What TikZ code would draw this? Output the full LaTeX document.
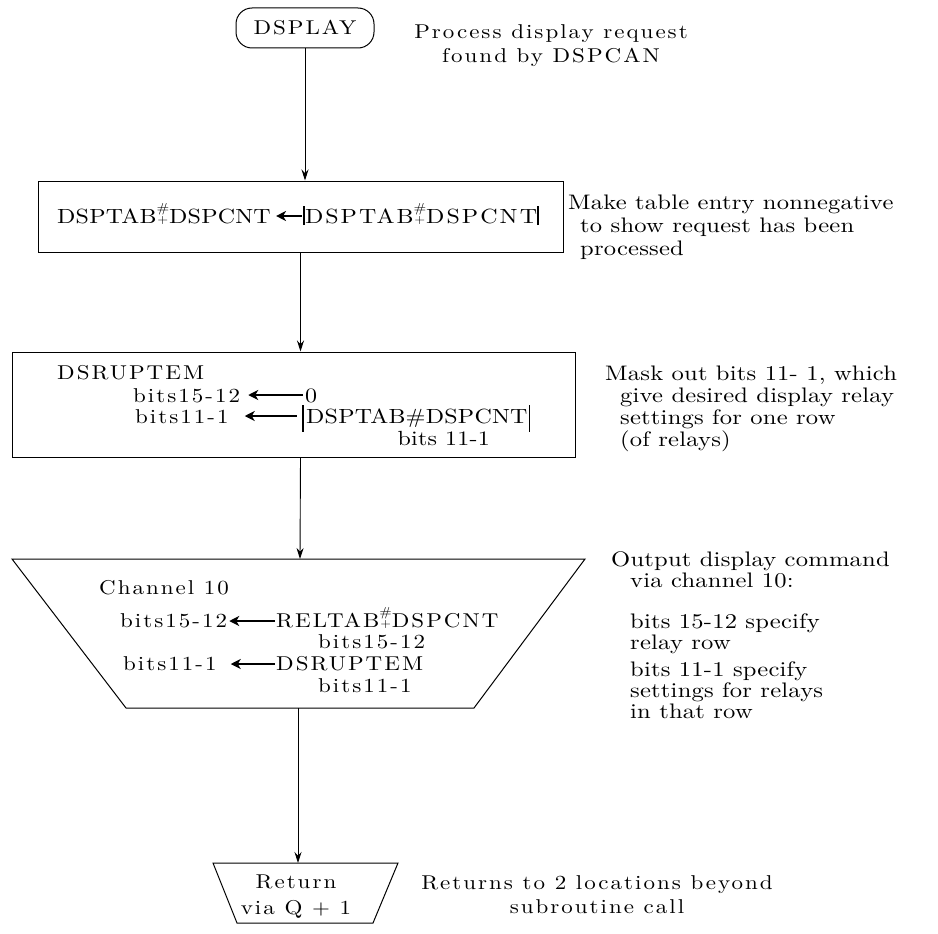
\documentclass[tikz,border=0pt]{standalone}
\usepackage{fontspec}
\usetikzlibrary{arrows.meta}

% type styles: a broad book face (plain and spread) and a spaced-out typewriter face
\setmainfont{lmroman10-regular.otf}
\newfontfamily\bookfamily{lmroman10-regular.otf}[FakeStretch=1.17, LetterSpace=1]
\newfontfamily\spreadfamily{lmroman10-regular.otf}[FakeStretch=1.17, LetterSpace=10]
\newfontfamily\typefamily{lmroman10-regular.otf}[FakeStretch=1.15, LetterSpace=10]
\newcommand\boxtext{\bookfamily\fontsize{20.5}{22}\selectfont}
\newcommand\spreadtext{\spreadfamily\fontsize{20.5}{22}\selectfont}
\newcommand\notetext{\bookfamily\fontsize{21}{22}\selectfont}
\newcommand\widetext{\typefamily\fontsize{20}{22}\selectfont}
% table subscript mark: # set high over a small +
\newcommand\hashplus{\ooalign{\raisebox{11pt}{\fontsize{13}{13}\selectfont\#}\cr
  \hidewidth\raisebox{0pt}{\fontsize{12}{12}\selectfont+}\hidewidth\cr}}
\newcommand\heavybar{\rule[-2pt]{1.8pt}{19pt}}

\begin{document}
\begin{tikzpicture}[x=1pt,y=-1pt,
  flowbox/.style={draw, line width=1pt, inner sep=0pt},
  outline/.style={draw, line width=1pt, line join=miter},
  flow/.style={-{Stealth[length=11pt,width=7pt]}, line width=0.9pt},
  txtarrow/.style={{Stealth[length=10pt,width=10pt,inset=3pt]}-, line width=1.4pt},
  lbl/.style={inner sep=0pt, anchor=base west, font=\boxtext},
  wlbl/.style={inner sep=0pt, anchor=base west, font=\widetext},
  note/.style={inner sep=0pt, anchor=base west, font=\notetext},
  wnote/.style={inner sep=0pt, anchor=base, font=\widetext},
  absbar/.style={line width=1.2pt}]

\useasboundingbox (0,0) rectangle (938,934);

% ---------- entry ----------
\node[flowbox, rounded corners=16pt, minimum width=138pt, minimum height=40pt,
      font=\widetext] (start) at (305,28) {DSPLAY};
\node[wnote] (n0a) at (551,39) {Process display request};
\node[wnote] (n0b) at (551,63) {found by DSPCAN};

% ---------- step 1 ----------
\node[flowbox, minimum width=525pt, minimum height=71pt] (b1) at (300.5,216.5) {};
\node[lbl] (b1a) at (57,223) {DSPTAB\hashplus DSPCNT};
\node[lbl, font=\spreadtext] (b1b) at (303,223) {\heavybar DSPTAB\hashplus DSPCNT\heavybar};
\draw[txtarrow] ([xshift=5pt,yshift=7pt]b1a.base east) -- ([xshift=-1pt,yshift=7pt]b1b.base west);
\node[note] (n1a) at (568,209) {Make table entry nonnegative};
\node[note] (n1b) at (580,232) {to show request has been};
\node[note] (n1c) at (580,255) {processed};

% ---------- step 2 ----------
\node[flowbox, minimum width=563pt, minimum height=105pt] (b2) at (294,404.5) {};
\node[wlbl] (b2a) at (57,379) {DSRUPTEM};
\node[wlbl] (b2b) at (133,402) {bits15-12};
\node[lbl]  (b2c) at (305,402) {0};
\node[wlbl] (b2d) at (135,423) {bits11-1};
\node[lbl]  (b2e) at (306,423) {DSPTAB\#DSPCNT};
\node[lbl, anchor=base east] (b2f) at (490,445) {bits 11-1};
\draw[txtarrow] ([xshift=8pt,yshift=7pt]b2b.base east) -- ([xshift=-2pt,yshift=7pt]b2c.base west);
\draw[txtarrow] ([xshift=16pt,yshift=7pt]b2d.base east) -- ([xshift=-9pt,yshift=7pt]b2e.base west);
\draw[absbar] ([xshift=-3pt]b2e.base west) ++(0,-18) -- ++(0,27);
\draw[absbar] ([xshift=2pt]b2e.base east) ++(0,-18) -- ++(0,27);
\node[note] (n2a) at (605,380) {Mask out bits 11- 1, which};
\node[note] (n2b) at (620,402) {give desired display relay};
\node[note] (n2c) at (620,424) {settings for one row};
\node[note] (n2d) at (620,446) {(of relays)};

% ---------- step 3: output ----------
\draw[outline] (12,559) -- (585,559) -- (474,708) -- (126,708) -- cycle;
\coordinate (b3top) at (300,559);
\coordinate (b3bot) at (298,708);
\node[wlbl] (ch)  at (99,594) {Channel 10};
\node[wlbl] (b3a) at (120,627) {bits15-12};
\node[wlbl] (b3b) at (276,627) {RELTAB\hashplus DSPCNT};
\node[wlbl] (b3c) at (318,648) {bits15-12};
\node[wlbl] (b3d) at (123,670) {bits11-1};
\node[wlbl] (b3e) at (276,670) {DSRUPTEM};
\node[wlbl] (b3f) at (318,692) {bits11-1};
\draw[txtarrow] ([xshift=2pt,yshift=6pt]b3a.base east) -- ([xshift=-1pt,yshift=6pt]b3b.base west);
\draw[txtarrow] ([xshift=14pt,yshift=6pt]b3d.base east) -- ([xshift=-1pt,yshift=6pt]b3e.base west);
\node[note] (n3a) at (611,566) {Output display command};
\node[note] (n3b) at (630,587) {via channel 10:};
\node[note] (n3c) at (630,628) {bits 15-12 specify};
\node[note] (n3d) at (630,649) {relay row};
\node[note] (n3e) at (630,676) {bits 11-1 specify};
\node[note] (n3f) at (630,697) {settings for relays};
\node[note] (n3g) at (630,718) {in that row};

% ---------- exit ----------
\draw[outline] (213,863) -- (398,863) -- (373,923) -- (237,923) -- cycle;
\coordinate (rettop) at (298,863);
\node[wnote] (r1) at (296,888) {Return};
\node[wnote] (r2) at (296,914) {via Q + 1};
\node[wnote] (n4a) at (597,889) {Returns to 2 locations beyond};
\node[wnote] (n4b) at (597,913) {subroutine call};

% ---------- flow lines ----------
\draw[flow] (start.south) -- (start.south |- b1.north);
\draw[flow] (b1.south) -- (b1.south |- b2.north);
\draw[flow] (b1.south |- b2.south) -- (b3top);
\draw[flow] (b3bot) -- (rettop);
\end{tikzpicture}
\end{document}
